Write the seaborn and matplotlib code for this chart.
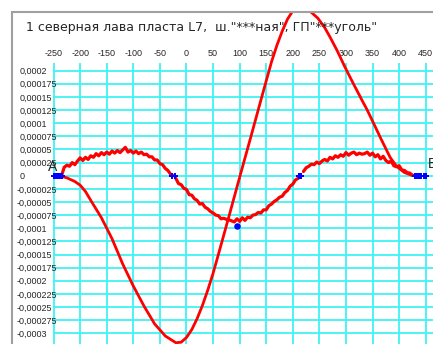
import numpy as np
import pandas as pd
import matplotlib
matplotlib.use("Agg")
import matplotlib.pyplot as plt
import seaborn as sns
from matplotlib.patches import Rectangle
from matplotlib.transforms import ScaledTranslation

TITLE = '1 северная лава пласта L7,  ш."***ная", ГП"***уголь"'

# big smooth curve (x in m, y in 1e-6)
big_x = [-240, -225, -210, -200, -190, -180, -160, -140, -120, -100, -80, -60, -40, -20,
         -10, 0, 10, 20, 30, 40, 50, 60, 80, 100, 120, 140, 160, 170, 180, 190, 200, 215,
         236, 247, 260, 270, 283, 298, 313, 330, 340, 350, 365, 383, 395, 410, 426]
big_y = [0, -4, -11, -18, -30, -47, -80, -120, -168, -210, -248, -282, -305, -318,
         -317, -308, -293, -272, -247, -218, -186, -150, -77, -3, 70, 144, 217, 248, 275, 298, 314, 325,
         310, 300, 282, 264, 239, 207, 177, 144, 125, 104, 72, 35, 18, 6, 0]

# noisy curve, three pieces
left_x = [-235, -230, -225, -220, -215, -210, -205, -200, -195, -190, -185, -180, -175,
          -170, -165, -160, -155, -150, -145, -140, -135, -130, -125, -120, -115, -110,
          -105, -100, -95, -90, -85, -80, -75, -70, -65, -60, -55, -50, -45, -40, -35,
          -30, -25]
left_y = [0, 16, 20, 18, 25, 21, 28, 34, 29, 35, 31, 38, 35,
          42, 38, 44, 40, 45, 41, 47, 43, 48, 44, 49, 54, 45,
          48, 43, 47, 42, 45, 40, 41, 36, 36, 30, 30, 23, 21, 14, 10,
          3, 0]
mid_x = [-20, -15, -10, -5, 0, 5, 10, 15, 20, 25, 30, 35, 40, 45, 50, 55, 60, 65, 70,
         75, 80, 85, 90, 95, 100, 105, 110, 115, 120, 125, 130, 135, 140, 145, 150, 155,
         160, 165, 170, 175, 180, 185, 190, 195, 200, 205, 210, 215]
mid_y = [-5, -15, -17, -24, -26, -36, -37, -44, -47, -54, -53, -60, -63, -68, -71, -75, -76, -82, -81,
         -83, -84, -86, -88, -82, -87, -80, -85, -79, -80, -75, -74, -70, -71, -65, -65, -57,
         -54, -49, -46, -41, -39, -32, -28, -20, -16, -8, -5, 0]
right_x = [220, 225, 230, 235, 240, 245, 250, 255, 260, 265, 270, 275, 280, 285, 290, 295,
           300, 305, 310, 315, 320, 325, 330, 335, 340, 345, 350, 355, 360, 365, 370, 375,
           380, 385, 390, 395, 400, 405, 410, 415, 420, 425, 430]
right_y = [8, 15, 18, 22, 21, 26, 23, 28, 31, 28, 35, 32, 38, 35, 40, 37,
           44, 39, 43, 45, 40, 43, 41, 42, 45, 39, 43, 36, 40, 32, 37, 29,
           25, 28, 19, 17, 19, 11, 10, 6, 5, 1, 0]

# blue markers
blue_x = [-250, -246, -242, -238, -234, -27, -21, 211, 215, 430, 434, 438, 442, 446, 450]
blue_y = [0, 0, 0, 0, 0, 0, 0, 0, 0, 0, 0, 0, 0, 0, 0]
blue_min_x = [95]
blue_min_y = [-96]

x_ticks = [-250, -200, -150, -100, -50, 0, 50, 100, 150, 200, 250, 300, 350, 400, 450]
y_ticks = [200, 175, 150, 125, 100, 75, 50, 25, 0, -25, -50, -75, -100, -125, -150,
           -175, -200, -225, -250, -275, -300]
y_labels = ["0,0002", "0,000175", "0,00015", "0,000125", "0,0001", "0,000075", "0,00005",
            "0,000025", "0", "-0,000025", "-0,00005", "-0,000075", "-0,0001", "-0,000125",
            "-0,00015", "-0,000175", "-0,0002", "-0,000225", "-0,00025", "-0,000275", "-0,0003"]

U = 1e-6

sns.set_style("white")
plt.rcParams["font.family"] = ["Liberation Sans", "DejaVu Sans"]

W, H = 433, 344
fig = plt.figure(figsize=(W / 100, H / 100), dpi=100)
ax = fig.add_axes([53.3 / W, 0, (W - 53.3) / W, (H - 63) / H])

grid_c = "#3ff3f3"
ax.set_xlim(-250.5, 463.7)
ax.set_ylim(-320.4 * U, 214.6 * U)
ax.set_xticks(x_ticks)
ax.set_xticklabels([str(v) for v in x_ticks])
ax.set_yticks([v * U for v in y_ticks])
ax.set_yticklabels(y_labels)
ax.grid(True, color=grid_c, lw=1.3)
ax.set_axisbelow(True)
for s in ax.spines.values():
    s.set_visible(False)
ax.xaxis.tick_top()
ax.tick_params(axis="x", length=0, pad=3.5, labelsize=6.5)
ax.tick_params(axis="y", length=0, pad=24, labelsize=6.5)
for lab in ax.get_yticklabels():
    lab.set_horizontalalignment("left")
    if lab.get_text().startswith("-"):
        lab.set_transform(lab.get_transform() + ScaledTranslation(-3 / 100, 0, fig.dpi_scale_trans))

frame_clip = Rectangle((12 / W, 0), 1, (H - 13) / H, transform=fig.transFigure)

big = pd.DataFrame({"x": big_x, "y": np.array(big_y) * U})
sns.lineplot(data=big, x="x", y="y", sort=False, estimator=None, color="#ff0000",
             lw=2.0, ax=ax)
big_line = ax.lines[-1]
big_line.set_clip_path(frame_clip)
big_line.set_clip_on(True)

for xs, ys in [(left_x, left_y), (mid_x, mid_y), (right_x, right_y)]:
    seg = pd.DataFrame({"x": xs, "y": np.array(ys) * U})
    sns.lineplot(data=seg, x="x", y="y", sort=False, estimator=None, color="#ff0000",
                 lw=2.3, ax=ax)

sns.scatterplot(x=blue_x, y=np.array(blue_y) * U, marker="P", s=14, color="#0000ff",
                edgecolor="#0000ff", linewidth=0, ax=ax, zorder=5, clip_on=False)
sns.scatterplot(x=blue_min_x, y=np.array(blue_min_y) * U, marker="o", s=22, color="#0000ff",
                edgecolor="#0000ff", linewidth=0, ax=ax, zorder=5)

ax.set_xlabel("")
ax.set_ylabel("")

ax.text(-251.5, 16.5 * U, "A", fontsize=10, ha="center", va="center", clip_on=False)
ax.text(454, 22 * U, "B", fontsize=10, ha="left", va="center", clip_on=False)

fig.add_artist(Rectangle((12 / W, -0.1), 1, (H - 12) / H + 0.1, transform=fig.transFigure,
                         fill=False, edgecolor="#a0a0a0", lw=1.5))
fig.text(26 / W, 1 - 27 / H, TITLE, fontsize=9, ha="left", va="center",
         family=["DejaVu Sans"])

fig.savefig("out.png", dpi=100)
